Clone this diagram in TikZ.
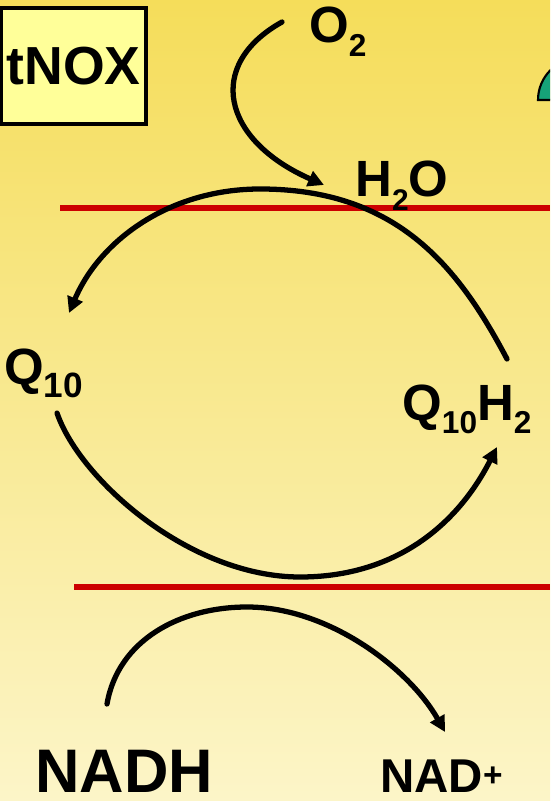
\documentclass[tikz,border=0pt]{standalone}
\usepackage{fontspec}
\setmainfont{Liberation Sans}
\usetikzlibrary{arrows.meta}

\definecolor{bgtop}{RGB}{245,221,90}
\definecolor{bgbottom}{RGB}{252,245,200}
\definecolor{boxyellow}{RGB}{255,255,153}
\definecolor{membrane}{RGB}{204,0,0}
\definecolor{enzymegreen}{RGB}{22,163,120}

\newcommand{\lowidx}[2][18]{\raisebox{-7.5pt}{\fontsize{#1}{#1}\selectfont #2}}

\begin{document}
\begin{tikzpicture}[x=0.2mm, y=-0.2mm,
        lbl/.style={anchor=base west, inner sep=0pt},
        flow/.style={line width=3pt, line cap=round, -{Triangle[length=9pt,width=9pt]}},
        redline/.style={membrane, line width=3.4pt}]

        % pozadí
        \shade[top color=bgtop, bottom color=bgbottom] (0,0) rectangle (550,801);
        \useasboundingbox (0,0) rectangle (550,801);

        % enzym u okraje
        \begin{scope}
            \clip (0,0) rectangle (550,801);
            \draw[fill=enzymegreen, line width=1.2pt] (538,100) .. controls (538,76.8) and (556.8,58) .. (580,58) -- (580,100) -- cycle;
        \end{scope}

        % membrány
        \draw[redline] (60,208) -- (550,208);
        \draw[redline] (74,587) -- (550,587);

        % popisky
        \node[draw, line width=2.3pt, fill=boxyellow, minimum width=2.78cm, minimum height=2.32cm,
            font=\bfseries\fontsize{30.5}{30.5}\selectfont] (tnox) at (73.5,66) {tNOX};
        \node[lbl, font=\bfseries\fontsize{29}{29}\selectfont] (otwo) at (309,43) {O\lowidx{2}};
        \node[lbl, font=\bfseries\fontsize{29}{29}\selectfont] (water) at (355,197) {H\lowidx[17]{2}O};
        \node[lbl, font=\bfseries\fontsize{29}{29}\selectfont] (qten) at (4,384) {Q\lowidx[20]{10}};
        \node[lbl, font=\bfseries\fontsize{29}{29}\selectfont] (qtenhtwo) at (402,420) {Q\lowidx[18]{10}H\lowidx[18]{2}};
        \node[lbl, font=\bfseries\fontsize{35}{35}\selectfont] (nadh) at (35,792) {NADH};
        \node[lbl, font=\bfseries\fontsize{27}{27}\selectfont] (nadplus) at (380,792) {NAD\raisebox{3pt}{\fontsize{19}{19}\selectfont +}};

        % konce šipek
        \coordinate (ostart) at (282,22);
        \coordinate (oend) at (324,185);
        \coordinate (hstart) at (507,359);
        \coordinate (top) at (260,189);
        \coordinate (qend) at (69,313);
        \coordinate (qstart) at (57,413);
        \coordinate (bottom) at (300,577);
        \coordinate (hend) at (497,447);
        \coordinate (nstart) at (107,704);
        \coordinate (ntop) at (247,607);
        \coordinate (nend) at (445,732);

        % šipky
        \draw[flow] (ostart) .. controls (205,65) and (222,140) .. (oend);
        \draw[flow] (hstart) .. controls (457,264) and (395,189) .. (top)
            .. controls (170,189) and (100,240) .. (qend);
        \draw[flow] (qstart) .. controls (80,480) and (190,577) .. (bottom)
            .. controls (400,577) and (460,520) .. (hend);
        \draw[flow] (nstart) .. controls (118,640) and (180,607) .. (ntop)
            .. controls (330,607) and (410,670) .. (nend);

    \end{tikzpicture}
\end{document}
